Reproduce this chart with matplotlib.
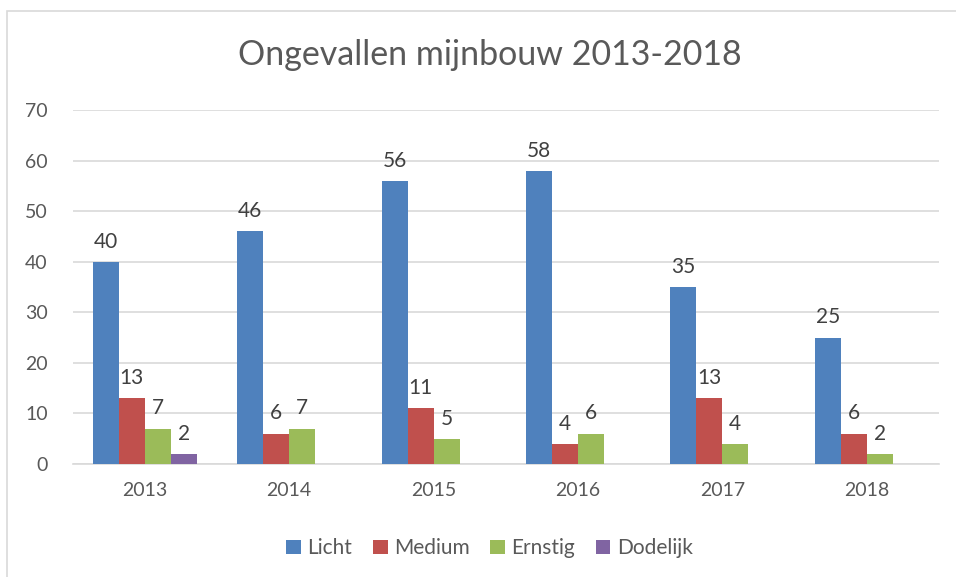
import numpy as np
import matplotlib.pyplot as plt
from matplotlib.patches import Rectangle

years = ['2013', '2014', '2015', '2016', '2017', '2018']
licht = [40, 46, 56, 58, 35, 25]
medium = [13, 6, 11, 4, 13, 6]
ernstig = [7, 7, 5, 6, 4, 2]
dodelijk = [2, 0, 0, 0, 0, 0]

series = [('Licht', licht, '#4F81BD'), ('Medium', medium, '#C0504D'),
          ('Ernstig', ernstig, '#9BBB59'), ('Dodelijk', dodelijk, '#8064A2')]

plt.rcParams['font.family'] = ['Lato', 'DejaVu Sans']

fig = plt.figure(figsize=(9.56, 5.77), dpi=100)
# chart border
fig.patches.append(Rectangle((7 / 956, -0.01), 1.0, 1 - 11 / 577 + 0.01,
                             transform=fig.transFigure, fill=False,
                             edgecolor='#D9D9D9', linewidth=1.2))

ax = fig.add_axes([0.076, 0.196, 0.906, 0.613])

x = np.arange(len(years))
w = 0.18
for i, (name, vals, col) in enumerate(series):
    pos = x + (i - 1.5) * w
    bars = ax.bar(pos, vals, width=w, color=col, label=name, zorder=3)
    for xp, v in zip(pos, vals):
        if v > 0:
            ax.text(xp, v + 2.0, str(v), ha='center', va='bottom',
                    fontsize=15, color='#404040')

ax.set_xlim(-0.5, len(years) - 0.5)
ax.set_ylim(0, 70)
ax.set_yticks(np.arange(0, 71, 10))
ax.set_xticks(x)
ax.set_xticklabels(years)
ax.yaxis.grid(True, color='#D9D9D9', linewidth=1.2, zorder=0)
for s in ['top', 'right', 'left']:
    ax.spines[s].set_visible(False)
ax.spines['bottom'].set_color('#D9D9D9')
ax.spines['bottom'].set_linewidth(1.2)
ax.tick_params(length=0, labelsize=14, labelcolor='#595959')
ax.tick_params(axis='x', pad=13)
ax.tick_params(axis='y', pad=18)

fig.text(0.512, 0.905, 'Ongevallen mijnbouw 2013-2018', ha='center',
         va='center', fontsize=24.5, color='#595959')

fig.legend(loc='center', bbox_to_anchor=(0.512, 0.05), ncol=4, frameon=False,
           fontsize=15, handlelength=0.7, handleheight=0.7, handletextpad=0.3,
           columnspacing=1.0, labelcolor='#595959')

plt.savefig('out.png', dpi=100)
